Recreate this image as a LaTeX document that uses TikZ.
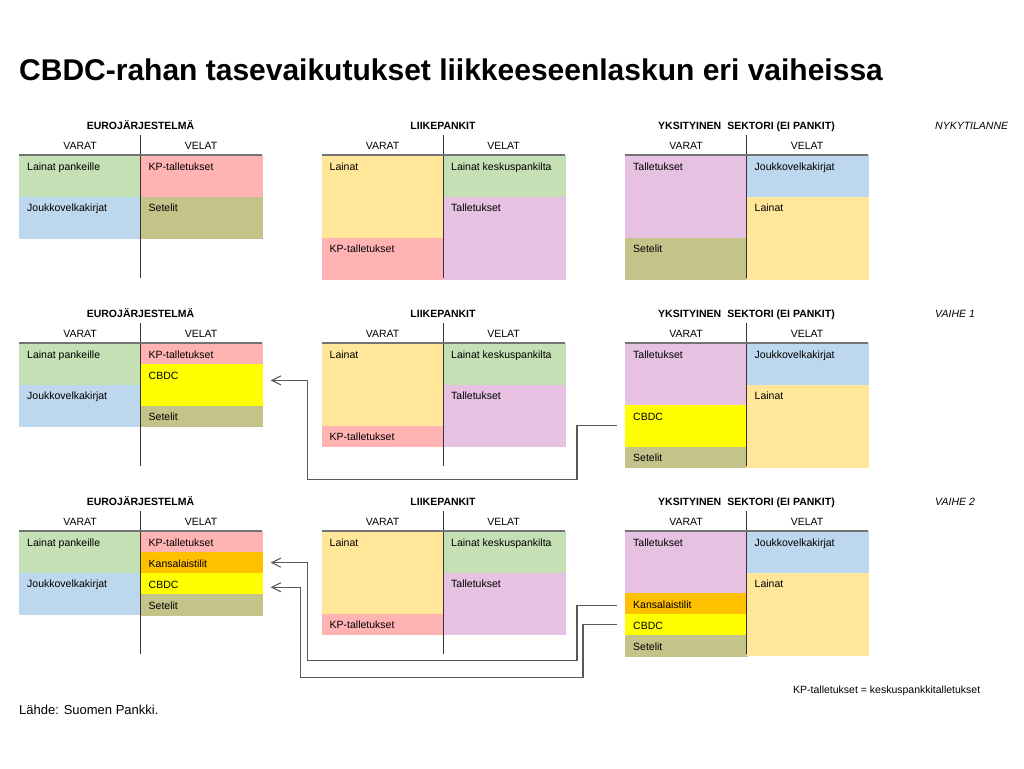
\documentclass[tikz,border=0pt]{standalone}
\usepackage{fontspec}
\setmainfont{Liberation Sans}
\usepackage{tikz}
\usetikzlibrary{positioning, calc, arrows.meta}
\definecolor{cbgreen}{HTML}{C5E0B4}
\definecolor{cbpink}{HTML}{FFB3B3}
\definecolor{cbblue}{HTML}{BDD7EE}
\definecolor{cbolive}{HTML}{C4C38A}
\definecolor{cbsand}{HTML}{FFE699}
\definecolor{cbviolet}{HTML}{E6C1E1}
\definecolor{cbyellow}{HTML}{FFFF00}
\definecolor{cborange}{HTML}{FFC000}

\begin{document}
\begin{tikzpicture}[x=1pt, y=-1pt,
    cell/.style={rectangle,
      draw=#1,
      line width=0.6pt,
      fill=#1,
      inner sep=0pt,
      anchor=north west,
      minimum width=121.5pt},
    units/.style={minimum height=#1*20.5pt},
    celltext/.style={anchor=base west,
      inner sep=0pt,
      xshift=8pt,
      yshift=-15pt,
      font=\fontsize{10.5}{12}\selectfont},
    heading/.style={anchor=base, inner sep=0pt,
      font=\fontsize{10.5}{12}\selectfont\bfseries},
    colhead/.style={anchor=base, inner sep=0pt,
      font=\fontsize{10.5}{12}\selectfont},
    phase/.style={anchor=base west, inner sep=0pt,
      font=\fontsize{10.5}{12}\selectfont\itshape},
    divider/.style={line width=1pt, draw=black!80},
    rule/.style={line width=2pt, draw=black!55},
    flow/.style={line width=1.1pt, draw=black!65,
      -{Straight Barb[length=9pt, width=9pt]},
      shorten <=8pt, shorten >=8pt}]

  \useasboundingbox (0,0) rectangle (1024,768);

  % TITLE

  \node[anchor=base west, inner sep=0pt,
    font=\fontsize{30}{32}\selectfont\bfseries] (title) at (19,81) {
    CBDC-rahan tasevaikutukset liikkeeseenlaskun eri vaiheissa
  };

  % NYKYTILANNE

  \node[cell=cbgreen, units=2, label={[celltext]north west:Lainat pankeille}] (ej1a) at (19,155) {};
  \node[cell=cbblue, units=2, label={[celltext]north west:Joukkovelkakirjat}] (ej1b) at (ej1a.south west) {};
  \node[cell=cbpink, units=2, label={[celltext]north west:KP-talletukset}] (ej1c) at (140.5,155) {};
  \node[cell=cbolive, units=2, label={[celltext]north west:Setelit}] (ej1d) at (ej1c.south west) {};

  \node[cell=cbsand, units=4, label={[celltext]north west:Lainat}] (lp1a) at (321.5,155) {};
  \node[cell=cbpink, units=2, label={[celltext]north west:KP-talletukset}] (lp1b) at (lp1a.south west) {};
  \node[cell=cbgreen, units=2, label={[celltext]north west:Lainat keskuspankilta}] (lp1c) at (443,155) {};
  \node[cell=cbviolet, units=4, label={[celltext]north west:Talletukset}] (lp1d) at (lp1c.south west) {};

  \node[cell=cbviolet, units=4, label={[celltext]north west:Talletukset}] (ys1a) at (625,155) {};
  \node[cell=cbolive, units=2, label={[celltext]north west:Setelit}] (ys1b) at (ys1a.south west) {};
  \node[cell=cbblue, units=2, label={[celltext]north west:Joukkovelkakirjat}] (ys1c) at (746.5,155) {};
  \node[cell=cbsand, units=4, label={[celltext]north west:Lainat}] (ys1d) at (ys1c.south west) {};

  % VAIHE 1

  \node[cell=cbgreen, units=2, label={[celltext]north west:Lainat pankeille}] (ej2a) at (19,343) {};
  \node[cell=cbblue, units=2, label={[celltext]north west:Joukkovelkakirjat}] (ej2b) at (ej2a.south west) {};
  \node[cell=cbpink, units=1, label={[celltext]north west:KP-talletukset}] (ej2c) at (140.5,343) {};
  \node[cell=cbyellow, units=2, label={[celltext]north west:CBDC}] (ej2cbdc) at (ej2c.south west) {};
  \node[cell=cbolive, units=1, label={[celltext]north west:Setelit}] (ej2d) at (ej2cbdc.south west) {};

  \node[cell=cbsand, units=4, label={[celltext]north west:Lainat}] (lp2a) at (321.5,343) {};
  \node[cell=cbpink, units=1, label={[celltext]north west:KP-talletukset}] (lp2b) at (lp2a.south west) {};
  \node[cell=cbgreen, units=2, label={[celltext]north west:Lainat keskuspankilta}] (lp2c) at (443,343) {};
  \node[cell=cbviolet, units=3, label={[celltext]north west:Talletukset}] (lp2d) at (lp2c.south west) {};

  \node[cell=cbviolet, units=3, label={[celltext]north west:Talletukset}] (ys2a) at (625,343) {};
  \node[cell=cbyellow, units=2, label={[celltext]north west:CBDC}] (ys2cbdc) at (ys2a.south west) {};
  \node[cell=cbolive, units=1, label={[celltext]north west:Setelit}] (ys2b) at (ys2cbdc.south west) {};
  \node[cell=cbblue, units=2, label={[celltext]north west:Joukkovelkakirjat}] (ys2c) at (746.5,343) {};
  \node[cell=cbsand, units=4, label={[celltext]north west:Lainat}] (ys2d) at (ys2c.south west) {};

  % VAIHE 2

  \node[cell=cbgreen, units=2, label={[celltext]north west:Lainat pankeille}] (ej3a) at (19,531) {};
  \node[cell=cbblue, units=2, label={[celltext]north west:Joukkovelkakirjat}] (ej3b) at (ej3a.south west) {};
  \node[cell=cbpink, units=1, label={[celltext]north west:KP-talletukset}] (ej3c) at (140.5,531) {};
  \node[cell=cborange, units=1, label={[celltext]north west:Kansalaistilit}] (ej3kans) at (ej3c.south west) {};
  \node[cell=cbyellow, units=1, label={[celltext]north west:CBDC}] (ej3cbdc) at (ej3kans.south west) {};
  \node[cell=cbolive, units=1, label={[celltext]north west:Setelit}] (ej3d) at (ej3cbdc.south west) {};

  \node[cell=cbsand, units=4, label={[celltext]north west:Lainat}] (lp3a) at (321.5,531) {};
  \node[cell=cbpink, units=1, label={[celltext]north west:KP-talletukset}] (lp3b) at (lp3a.south west) {};
  \node[cell=cbgreen, units=2, label={[celltext]north west:Lainat keskuspankilta}] (lp3c) at (443,531) {};
  \node[cell=cbviolet, units=3, label={[celltext]north west:Talletukset}] (lp3d) at (lp3c.south west) {};

  \node[cell=cbviolet, units=3, label={[celltext]north west:Talletukset}] (ys3a) at (625,531) {};
  \node[cell=cborange, units=1, label={[celltext]north west:Kansalaistilit}] (ys3kans) at (ys3a.south west) {};
  \node[cell=cbyellow, units=1, label={[celltext]north west:CBDC}] (ys3cbdc) at (ys3kans.south west) {};
  \node[cell=cbolive, units=1, label={[celltext]north west:Setelit}] (ys3b) at (ys3cbdc.south west) {};
  \node[cell=cbblue, units=2, label={[celltext]north west:Joukkovelkakirjat}] (ys3c) at (746.5,531) {};
  \node[cell=cbsand, units=4, label={[celltext]north west:Lainat}] (ys3d) at (ys3c.south west) {};

  % HEADINGS AND RULES

  \foreach \r/\tag in {0/NYKYTILANNE, 1/VAIHE 1, 2/VAIHE 2} {
    \pgfmathsetmacro\top{155+188*\r}
    \node[phase] (phase\r) at (935,\top-25.5) {\tag};
    \foreach \c/\mid/\name in {0/140.5/EUROJÄRJESTELMÄ,
        1/443/LIIKEPANKIT,
        2/746.5/YKSITYINEN\hspace{0.3em} SEKTORI (EI PANKIT)} {
      \node[heading] (head\r\c) at (\mid,\top-25.5) {\name};
      \node[colhead] (varat\r\c) at (\mid-60.5,\top-5.5) {VARAT};
      \node[colhead] (velat\r\c) at (\mid+60.5,\top-5.5) {VELAT};
      \draw[divider] (\mid,\top-20) -- (\mid,\top+123);
      \draw[rule] (\mid-121.5,\top) -- (\mid+121.5,\top);
    }
  }

  % FLOWS

  \draw[flow] (ys2cbdc.west) -- ++(-48,0) -- ++(0,54)
    -| ([xshift=45pt, yshift=4.5pt]ej2cbdc.east) -- ([yshift=4.5pt]ej2cbdc.east);
  \draw[flow] ([yshift=-2pt]ys3kans.west) -- ++(-48,0) -- ++(0,55)
    -| ([xshift=45pt]ej3kans.east) -- (ej3kans.east);
  \draw[flow] (ys3cbdc.west) -- ++(-42,0) -- ++(0,53)
    -| ([xshift=38pt, yshift=-3.5pt]ej3cbdc.east) -- ([yshift=-3.5pt]ej3cbdc.east);

  % NOTES

  \node[anchor=base west, inner sep=0pt,
    font=\fontsize{10.5}{12}\selectfont] (explain) at (793,693.5) {
    KP-talletukset = keskuspankkitalletukset
  };
  \node[anchor=base west, inner sep=0pt,
    font=\fontsize{13}{15}\selectfont] (source) at (19,714) {
    Lähde: Suomen Pankki.
  };

\end{tikzpicture}
\end{document}
